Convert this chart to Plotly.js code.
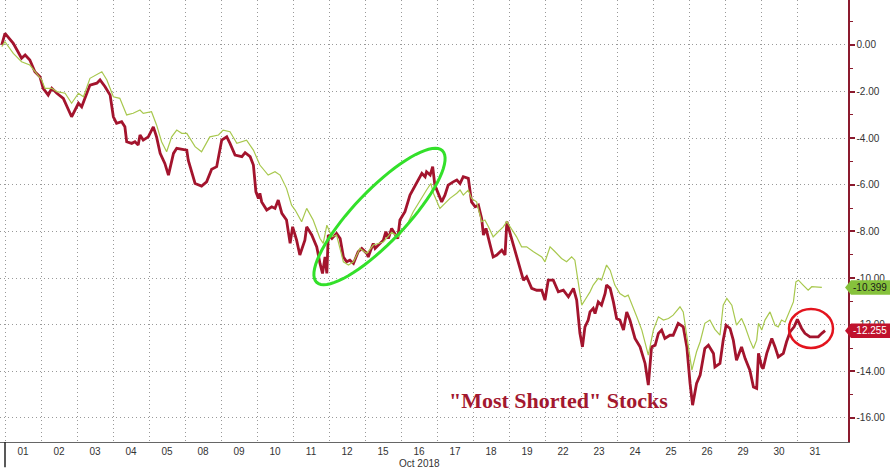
<!DOCTYPE html>
<html>
<head>
<meta charset="utf-8">
<script src="https://cdn.plot.ly/plotly-3.0.1.min.js"></script>
<style>html,body{margin:0;padding:0;background:#fff;}#chart{width:890px;height:469px;}</style>
</head>
<body>
<div id="chart"></div>
<script>
// Trading days of Oct 2018 (x labels)
const days = ["01","02","03","04","05","08","09","10","11","12","15","16","17","18","19","22","23","24","25","26","29","30","31"];

// "Most Shorted" stocks: time (trading-day index, fractional) and % change
const shortedT = [-0.09,0.00,0.23,0.33,0.46,0.56,0.69,0.83,0.97,1.06,1.20,1.30,1.44,1.62,1.85,2.04,2.13,2.36,2.55,2.64,2.78,2.92,3.01,3.10,3.24,3.33,3.38,3.52,3.61,3.70,3.75,3.84,3.98,4.12,4.21,4.31,4.44,4.54,4.68,4.77,5.05,5.09,5.28,5.46,5.60,5.74,5.88,6.02,6.16,6.25,6.39,6.58,6.67,6.81,6.90,6.97,7.04,7.08,7.13,7.27,7.41,7.50,7.59,7.69,7.82,7.92,7.99,8.10,8.19,8.33,8.38,8.52,8.66,8.75,8.82,8.89,8.94,8.98,9.08,9.21,9.31,9.40,9.49,9.58,9.68,9.81,9.91,10.05,10.09,10.23,10.28,10.42,10.51,10.58,10.65,10.74,10.83,10.91,10.97,11.11,11.25,11.44,11.58,11.67,11.71,11.81,11.88,11.94,11.99,12.13,12.22,12.31,12.45,12.55,12.64,12.73,12.87,12.96,13.06,13.15,13.24,13.29,13.36,13.43,13.56,13.66,13.80,13.89,13.94,14.03,14.17,14.31,14.40,14.49,14.63,14.77,14.91,15.00,15.09,15.23,15.37,15.51,15.65,15.79,15.88,15.97,16.04,16.11,16.20,16.25,16.34,16.39,16.48,16.57,16.67,16.71,16.81,16.90,16.99,17.08,17.18,17.27,17.36,17.50,17.64,17.78,17.87,17.96,18.06,18.15,18.24,18.33,18.47,18.56,18.70,18.84,18.94,19.03,19.10,19.21,19.31,19.44,19.54,19.68,19.72,19.86,19.95,20.03,20.14,20.23,20.32,20.46,20.56,20.69,20.79,20.88,20.93,21.02,21.06,21.16,21.30,21.39,21.48,21.62,21.71,21.81,21.92,22.01,22.13,22.22,22.36,22.50,22.59,22.69,22.78];
const shortedV = [0.00,0.50,0.07,-0.21,-0.57,-0.43,-0.64,-1.15,-1.36,-1.86,-2.15,-1.86,-2.07,-2.29,-3.08,-2.50,-2.65,-1.72,-1.64,-1.50,-1.79,-2.15,-3.08,-3.36,-3.29,-3.51,-4.15,-4.22,-4.15,-4.29,-3.86,-4.08,-3.94,-3.51,-3.94,-4.65,-5.08,-5.58,-4.65,-4.43,-4.51,-4.94,-5.94,-6.05,-5.87,-5.33,-5.22,-4.08,-3.94,-4.22,-4.72,-4.79,-4.62,-4.79,-5.15,-6.30,-6.58,-6.36,-6.73,-7.08,-6.94,-7.01,-6.65,-7.22,-7.51,-8.51,-7.80,-8.37,-9.01,-8.37,-7.80,-8.15,-8.66,-9.37,-9.80,-9.09,-9.80,-8.15,-8.30,-8.08,-8.30,-9.09,-9.30,-9.23,-9.37,-8.87,-8.73,-8.94,-9.09,-8.51,-8.73,-8.51,-8.37,-8.01,-8.30,-7.87,-8.08,-8.30,-7.51,-7.15,-6.44,-5.87,-5.51,-5.65,-5.44,-5.58,-5.22,-6.01,-6.22,-6.73,-6.44,-6.01,-5.87,-5.79,-5.94,-5.65,-5.72,-6.73,-6.94,-6.87,-7.44,-8.15,-7.87,-8.30,-9.09,-9.01,-8.80,-9.01,-7.58,-8.08,-8.80,-9.52,-10.09,-9.94,-10.44,-10.52,-10.52,-10.94,-10.09,-10.09,-10.59,-10.52,-10.80,-10.44,-10.94,-12.37,-12.95,-12.09,-11.80,-11.45,-11.30,-11.52,-11.02,-11.16,-10.66,-10.30,-10.44,-11.02,-11.73,-11.80,-12.23,-11.45,-11.80,-12.59,-12.95,-13.66,-14.59,-12.95,-12.88,-12.37,-12.23,-12.59,-12.45,-12.45,-11.94,-12.09,-12.95,-14.52,-15.45,-14.52,-14.16,-13.02,-12.88,-13.23,-13.81,-13.66,-12.66,-12.02,-12.16,-12.66,-13.52,-12.95,-13.45,-13.95,-14.67,-14.73,-13.23,-13.81,-13.88,-13.23,-12.59,-12.95,-13.38,-13.23,-12.73,-12.30,-12.09,-11.77,-12.16,-12.37,-12.52,-12.52,-12.52,-12.37,-12.255];

// Benchmark (thin green line)
const benchT = [-0.09,0.00,0.23,0.46,0.69,0.83,1.02,1.11,1.30,1.44,1.67,1.85,2.04,2.18,2.36,2.69,2.83,3.01,3.19,3.38,3.56,3.75,3.84,4.07,4.21,4.35,4.49,4.63,4.77,4.91,5.05,5.28,5.46,5.69,5.93,6.06,6.25,6.44,6.71,6.90,7.08,7.31,7.50,7.64,7.82,7.96,8.06,8.24,8.38,8.56,8.75,8.84,8.94,9.08,9.21,9.40,9.54,9.68,9.86,10.05,10.23,10.51,10.74,10.92,11.16,11.34,11.53,11.71,11.83,11.90,12.08,12.22,12.36,12.55,12.64,12.73,12.87,12.96,13.10,13.24,13.33,13.43,13.56,13.70,13.84,13.94,14.07,14.21,14.35,14.49,14.68,14.91,15.00,15.14,15.28,15.46,15.60,15.74,15.83,15.93,16.02,16.11,16.25,16.34,16.48,16.57,16.71,16.81,16.94,17.08,17.22,17.31,17.41,17.55,17.69,17.87,18.01,18.15,18.29,18.43,18.56,18.75,18.84,18.94,19.08,19.21,19.31,19.44,19.58,19.72,19.86,19.95,20.05,20.19,20.32,20.46,20.56,20.69,20.79,20.88,20.93,21.02,21.11,21.25,21.39,21.48,21.57,21.67,21.81,21.90,21.97,22.04,22.17,22.31,22.41,22.59,22.69];
const benchV = [-0.07,0.14,-0.36,-0.72,-0.86,-1.15,-1.50,-1.86,-1.86,-2.00,-2.07,-2.50,-2.07,-2.22,-1.43,-1.15,-1.50,-2.22,-2.29,-3.00,-2.93,-2.79,-2.93,-2.86,-3.43,-4.15,-4.58,-3.94,-3.65,-3.79,-3.79,-4.36,-4.58,-3.94,-3.86,-3.65,-3.72,-4.22,-4.08,-4.51,-5.15,-5.58,-5.44,-5.58,-6.15,-6.87,-7.08,-7.58,-7.01,-7.51,-8.30,-8.51,-7.73,-8.23,-8.15,-9.30,-9.44,-9.30,-8.73,-8.94,-8.58,-8.45,-8.03,-8.23,-7.73,-7.15,-6.65,-6.22,-5.94,-6.36,-7.01,-6.79,-6.58,-6.36,-6.22,-6.44,-6.22,-6.58,-6.73,-7.58,-7.51,-7.80,-8.23,-8.01,-7.80,-7.58,-7.87,-8.23,-8.66,-8.66,-8.87,-9.09,-9.30,-8.66,-8.87,-9.16,-9.30,-9.09,-9.23,-10.37,-11.16,-10.94,-10.59,-10.30,-10.01,-10.09,-9.44,-9.66,-10.30,-10.66,-10.80,-10.73,-11.09,-11.66,-12.23,-13.30,-12.23,-11.66,-11.80,-11.73,-11.59,-11.23,-11.45,-12.45,-13.95,-13.16,-12.73,-11.94,-11.80,-12.20,-12.45,-11.16,-10.87,-11.16,-12.02,-11.73,-12.09,-12.66,-13.02,-12.66,-11.94,-12.23,-11.80,-11.45,-12.02,-12.09,-11.80,-11.88,-11.37,-11.02,-10.16,-10.09,-10.30,-10.52,-10.37,-10.37,-10.399];

// Y tick values
const yTicks = [0,-2,-4,-6,-8,-10,-12,-14,-16];
const yMinor = [1,-1,-3,-5,-7,-9,-11,-13,-15];
const lastShorted = shortedV[shortedV.length-1];
const lastBench = benchV[benchV.length-1];

const FONT = "Liberation Sans, Arial, sans-serif";
const DARKRED = "#8b1a2e";

const traces = [
  {x: shortedT, y: shortedV, type: "scatter", mode: "lines",
   line: {color: "#a3142d", width: 2.8}, hoverinfo: "skip"},
  {x: benchT, y: benchV, type: "scatter", mode: "lines",
   line: {color: "#a8c84e", width: 1.2}, hoverinfo: "skip"}
];

// plot area is 848 x 442 px (margins l=0, t=0)
const PW = 848, PH = 442;
const px = p => p / PW;
const py = p => (PH - p) / PH;

// rotated ellipse (green highlight), built in paper coords
function ellipsePath(cx, cy, a, b, deg) {
  const th = deg * Math.PI / 180;
  let d = "";
  for (let i = 0; i <= 72; i++) {
    const f = i / 72 * 2 * Math.PI;
    const X = cx + a * Math.cos(f) * Math.cos(th) - b * Math.sin(f) * Math.sin(th);
    const Y = cy + a * Math.cos(f) * Math.sin(th) + b * Math.sin(f) * Math.cos(th);
    d += (i === 0 ? "M " : " L ") + px(X).toFixed(5) + " " + py(Y).toFixed(5);
  }
  return d + " Z";
}

function tagPath(v) {
  const h = 0.31;
  const tip = px(845), l = px(851), r = px(892);
  return `M ${tip} ${v} L ${l} ${v + h} L ${r} ${v + h} L ${r} ${v - h} L ${l} ${v - h} Z`;
}

const shapes = [
  {type: "line", xref: "x", yref: "paper", x0: 0, x1: 0, y0: 0, y1: -0.057,
   line: {color: "#222", width: 1.5}},
  {type: "path", xref: "paper", yref: "paper", path: ellipsePath(379.5, 216.5, 91, 26, -46.3),
   line: {color: "#33e02a", width: 3}, fillcolor: "rgba(0,0,0,0)", layer: "above"},
  {type: "circle", xref: "paper", yref: "paper", x0: px(789), x1: px(833), y0: py(348), y1: py(309),
   line: {color: "#e3141e", width: 2.5}, layer: "above"},
  {type: "path", xref: "paper", yref: "y", path: tagPath(lastBench),
   fillcolor: "#86c23c", line: {width: 0}, layer: "above"},
  {type: "path", xref: "paper", yref: "y", path: tagPath(lastShorted),
   fillcolor: "#c0122d", line: {width: 0}, layer: "above"}
];

const annotations = [
  {text: "Oct 2018", xref: "x", yref: "paper", x: 11.5, y: py(463), showarrow: false,
   xanchor: "center", yanchor: "middle", font: {family: FONT, size: 10, color: "#333"}},
  {text: "\"Most Shorted\" Stocks", xref: "paper", yref: "paper", x: px(558.5), y: py(400),
   showarrow: false, xanchor: "center", yanchor: "middle",
   font: {family: "Liberation Serif, Times New Roman, serif", size: 22, color: "#a3182f", weight: "bold"}},
  {text: lastBench.toFixed(3), xref: "paper", yref: "y", x: px(870), y: lastBench, showarrow: false,
   xanchor: "center", yanchor: "middle", font: {family: FONT, size: 10, color: "#1a1a1a"}},
  {text: lastShorted.toFixed(3), xref: "paper", yref: "y", x: px(870), y: lastShorted, showarrow: false,
   xanchor: "center", yanchor: "middle", font: {family: FONT, size: 10, color: "#ffffff"}}
];

const layout = {
  width: 890, height: 469,
  margin: {l: 0, r: 42, t: 0, b: 27, pad: 0},
  paper_bgcolor: "#fff", plot_bgcolor: "#fff",
  showlegend: false,
  xaxis: {
    range: [-5/36, 843/36], fixedrange: true,
    tickmode: "array", tickvals: days.map((d, i) => i + 0.5), ticktext: days,
    ticks: "", showgrid: false, zeroline: false,
    showline: true, linecolor: "#666", linewidth: 1,
    tickfont: {family: FONT, size: 10, color: "#333"},
    minor: {tickmode: "array", tickvals: days.map((d, i) => i), showgrid: true,
            griddash: "1px,3px", gridcolor: "#999", gridwidth: 1, ticks: ""}
  },
  yaxis: {
    side: "right", range: [-17.03, 1.93], fixedrange: true,
    tickmode: "array", tickvals: yTicks, ticktext: yTicks.map(v => v.toFixed(2)),
    ticks: "outside", ticklen: 5, tickwidth: 2, tickcolor: DARKRED,
    showline: true, linecolor: DARKRED, linewidth: 1.5,
    showgrid: true, griddash: "1px,3px", gridcolor: "#999", gridwidth: 1,
    zeroline: false,
    tickfont: {family: FONT, size: 10, color: "#333"},
    minor: {tickmode: "array", tickvals: yMinor, ticks: "outside", ticklen: 3,
            tickwidth: 1, tickcolor: DARKRED, showgrid: false}
  },
  shapes: shapes,
  annotations: annotations
};

Plotly.newPlot("chart", traces, layout, {staticPlot: true, displayModeBar: false});
</script>
</body>
</html>
